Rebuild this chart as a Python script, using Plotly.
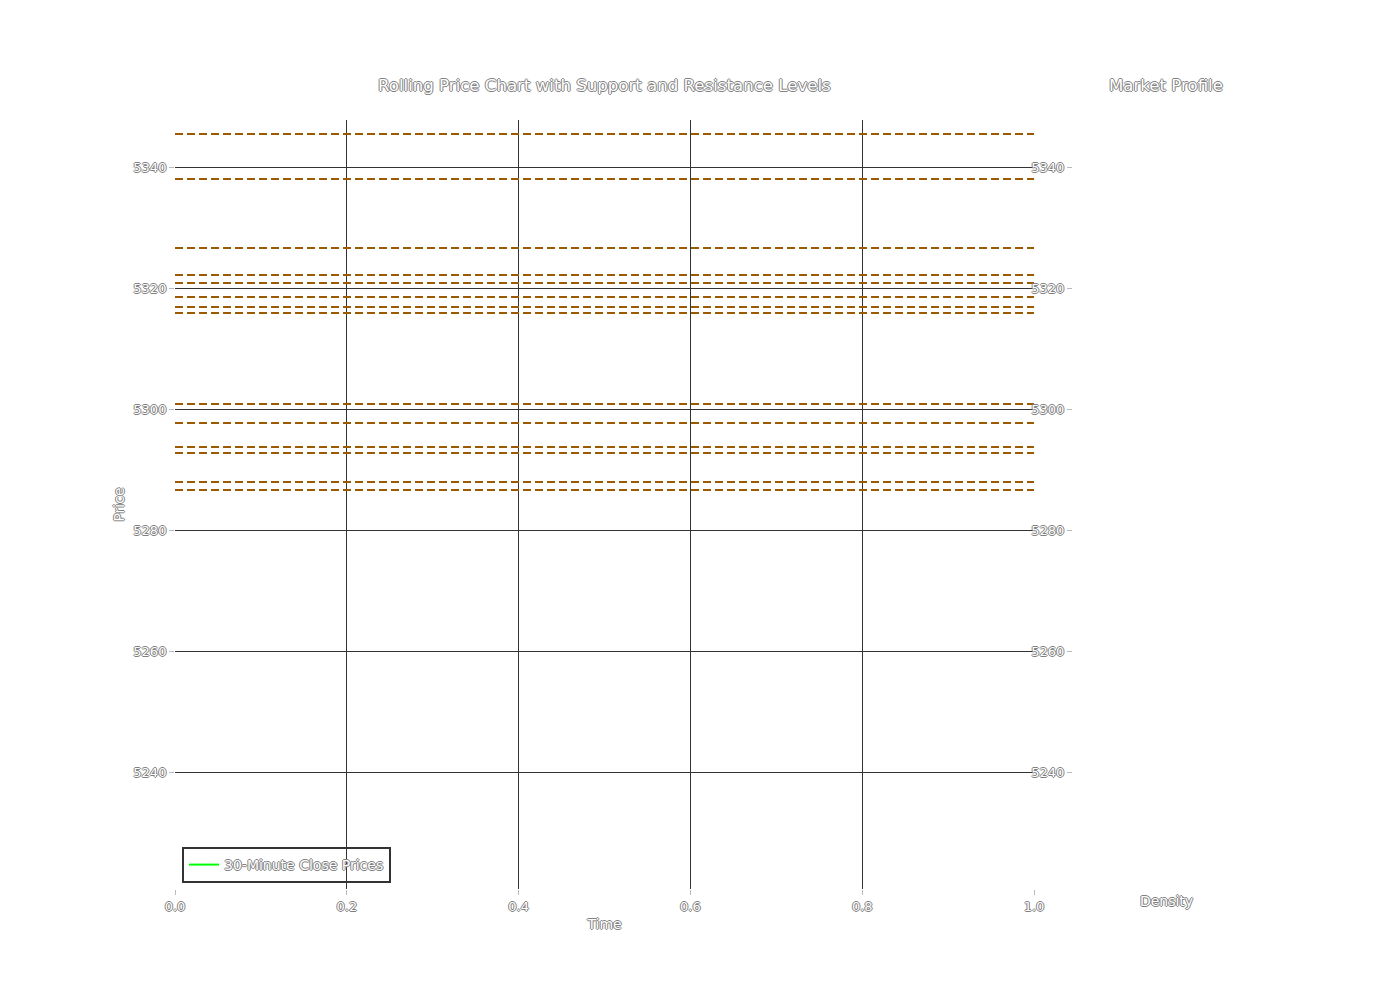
import plotly.graph_objects as go

# Data
price_times = []          # 30-minute close series (empty in reference)
price_values = []
levels = [5345.45, 5338.02, 5326.61, 5322.15, 5320.83, 5318.51, 5316.86, 5315.87,
          5300.83, 5297.69, 5293.72, 5292.73, 5287.93, 5286.61]
y_ticks = [5240, 5260, 5280, 5300, 5320, 5340]
x_ticks = [0.0, 0.2, 0.4, 0.6, 0.8, 1.0]
x_tick_labels = ["0.0", "0.2", "0.4", "0.6", "0.8", "1.0"]
y_range = [5220.66, 5347.77]

FONT = "DejaVu Sans"
TXT = "#ffffff"
SHADOW = "1px 0 0 #808080, -1px 0 0 #808080, 0 1px 0 #808080, 0 -1px 0 #808080"
LVL_COLOR = "#9c5a00"
GRID = "#333333"

fig = go.Figure()

for lvl in levels:
    fig.add_trace(go.Scatter(x=[0, 1], y=[lvl, lvl], mode="lines",
                             line=dict(color=LVL_COLOR, width=2, dash="8px,4px"),
                             showlegend=False, hoverinfo="skip",
                             xaxis="x", yaxis="y"))

fig.add_trace(go.Scatter(x=price_times if price_times else [None],
                         y=price_values if price_values else [None],
                         mode="lines", name="30-Minute Close Prices",
                         line=dict(color="#00ff00", width=2),
                         showlegend=True, xaxis="x", yaxis="y"))

# empty profile trace
fig.add_trace(go.Scatter(x=[None], y=[None], mode="lines", showlegend=False,
                         xaxis="x2", yaxis="y2"))

def f(size=13):
    return dict(family=FONT, size=size, color=TXT, shadow=SHADOW)

fig.update_layout(
    width=1400, height=1000,
    margin=dict(l=0, r=0, t=0, b=0),
    paper_bgcolor="white", plot_bgcolor="rgba(0,0,0,0)",
    font=f(),
    xaxis=dict(domain=[0.1193, 0.7329], range=[0, 1], tickvals=x_ticks,
               ticktext=x_tick_labels, automargin=False,
               showgrid=True, gridcolor=GRID, gridwidth=1, zeroline=False,
               showline=False, ticks="outside", ticklen=5, tickcolor="#bbbbbb",
               tickfont=f(), anchor="y",
               title=dict(text="Time", font=f(14), standoff=6)),
    yaxis=dict(domain=[0.119, 0.888], range=y_range, tickvals=y_ticks,
               automargin=False,
               showgrid=True, gridcolor=GRID, gridwidth=1, zeroline=False,
               showline=False, ticks="outside", ticklen=5, tickcolor="#bbbbbb",
               tickfont=f(), anchor="x",
               title=dict(text="Price", font=f(14), standoff=5)),
    xaxis2=dict(domain=[0.7607, 0.8943], range=[0, 1], showticklabels=False,
                automargin=False,
                showgrid=False, zeroline=False, showline=False, ticks="",
                anchor="y2",
                title=dict(text="Density", font=f(14), standoff=7)),
    yaxis2=dict(domain=[0.119, 0.888], range=y_range, tickvals=y_ticks,
                automargin=False,
                showgrid=False, zeroline=False, showline=False,
                ticks="outside", ticklen=5, tickcolor="#bbbbbb",
                tickfont=f(), anchor="x2", showticklabels=True),
    legend=dict(x=0.1243, y=0.125, xanchor="left", yanchor="bottom",
                bgcolor="rgba(255,255,255,0)", bordercolor="#333333", borderwidth=2,
                font=f(14), itemwidth=30, tracegroupgap=0),
    annotations=[
        dict(text="Rolling Price Chart with Support and Resistance Levels",
             x=0.4264, y=0.922, xref="paper", yref="paper", showarrow=False,
             xanchor="center", yanchor="middle", font=f(16.6)),
        dict(text="Market Profile",
             x=0.8271, y=0.922, xref="paper", yref="paper", showarrow=False,
             xanchor="center", yanchor="middle", font=f(16.6)),
    ],
)

fig.write_html("out.html")
